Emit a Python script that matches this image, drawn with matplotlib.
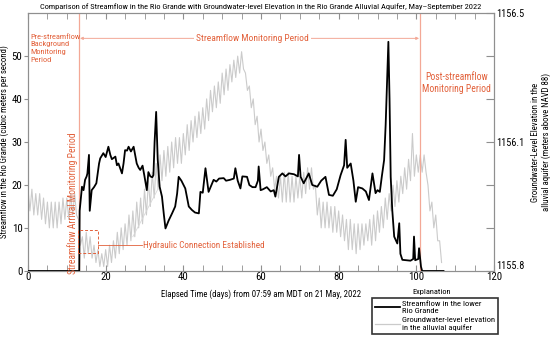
import numpy as np
import matplotlib
matplotlib.use("Agg")
import matplotlib.pyplot as plt
import matplotlib.font_manager as fm
from matplotlib.patches import Rectangle
from matplotlib.lines import Line2D

# pick the narrowest installed sans face
FONT, STRETCH = 'DejaVu Sans', 'normal'
_files = fm.findSystemFonts()
_prefs = ['libertysansnarrow', 'liberationsansnarrow-regular', 'robotocondensed-regular',
          'notosans-condensed.ttf', 'notosanscondensed-regular', 'opensans_condensed-regular',
          'opensanscondensed-regular', 'opensans-condensed', 'dejavusanscondensed.ttf']
_chosen = None
for p in _prefs:
    for f in _files:
        if p in f.lower().replace(' ', '').split('/')[-1]:
            _chosen = f
            break
    if _chosen:
        break
if _chosen:
    try:
        fm.fontManager.addfont(_chosen)
        _entry = fm.ttfFontProperty(fm.get_font(_chosen))
        FONT, STRETCH = _entry.name, _entry.stretch
    except Exception:
        pass
plt.rcParams['font.family'] = [FONT, 'DejaVu Sans']
plt.rcParams['font.stretch'] = STRETCH

# ---------------- data ----------------
flow_day = [0, 13.2, 13.3, 13.9, 14.3, 14.7, 15.1, 15.3, 15.7, 15.9, 16.4, 17, 17.6, 18.3, 18.6,
            19.4, 20.0, 20.7, 21.2, 21.6, 22.5, 22.9, 23.3, 24.2, 24.6, 25, 25.5, 25.9, 26.5,
            27.2, 28, 28.5, 28.9, 29.5, 30, 30.6, 31, 31.5, 32, 32.3, 32.6, 33.0, 33.4, 33.9,
            34.5, 35, 35.4, 36.2, 37.1, 37.9, 38.4, 38.8, 39.5, 40.5, 41.4, 42.2, 43, 44, 44.4,
            45, 45.7, 46.5, 47, 47.8, 48.5, 49.2, 50.4, 51, 52, 53, 53.4, 54, 54.7, 55.2, 56.4,
            57, 57.8, 58.6, 59.2, 59.4, 59.9, 60.5, 61.5, 62.5, 63.3, 63.7, 64.6, 65.5, 66.3,
            67.2, 68.5, 69.5, 69.8, 70.2, 71, 72.3, 73.2, 74.5, 75.5, 76.6, 77.5, 78.5, 79.5,
            80.5, 81.4, 81.8, 82.2, 83.1, 83.8, 84.4, 85, 86.1, 87, 87.8, 88.7, 89.5, 90, 90.6,
            91.1, 91.7, 92.1, 92.5, 92.8, 93.1, 93.4, 93.8, 94.3, 95.1, 95.6, 95.9, 96.4, 97.5,
            98.5, 99.2, 99.4, 99.7, 100.5, 100.7, 101.2, 101.5, 107]
flow_cms = [0, 0, 14, 19.6, 18.8, 21.2, 22, 22.7, 27, 14, 18.8, 19.5, 20.4, 25, 26.2,
            27.4, 26.5, 28.9, 27, 26, 26.6, 24.6, 25, 22.7, 25, 28.1, 28, 28.9, 27.8,
            28.9, 25, 24, 23.5, 24.5, 22, 18.8, 23, 22, 21.8, 22.3, 30, 37, 26, 19.6,
            17.3, 13, 9.9, 11.7, 13.4, 15, 18, 21.9, 21, 19.2, 15, 14.2, 13.6, 13.4, 18.4,
            18.2, 23.9, 18.4, 19.5, 21.2, 20.8, 21.5, 21.6, 21, 21.2, 21.5, 23.9, 21, 19.2, 22, 21.9,
            20, 19.5, 19.5, 21, 24.3, 18.8, 19, 19.5, 18.5, 18.8, 17.3, 21.9, 22.7, 22,
            22.7, 22.5, 22, 27, 21.9, 20.4, 22.7, 20, 19.6, 21, 21.9, 17.7, 17.5, 19,
            22.3, 24.6, 30.5, 24, 25, 21, 16.1, 19.5, 19.2, 18.5, 16.5, 22.7, 18.1, 18.8, 18.4,
            21.9, 25.8, 34, 45, 53.3, 40, 21.9, 14.2, 8, 6.4, 11.1, 4, 2.6, 2.5,
            2.4, 2.8, 8, 2.5, 2.8, 5.3, 1, 0, 0]

# groundwater level (m above NAVD 88), two readings per day (daily high, daily low)
gw_level = [
    1156.022, 1155.963, 1156.022, 1155.952, 1156.010, 1155.952, 1156.010, 1155.940,
    1155.998, 1155.928, 1155.987, 1155.917, 1155.987, 1155.917, 1155.987, 1155.917,
    1155.987, 1155.928, 1155.998, 1155.940, 1155.998, 1155.940, 1156.010, 1155.952,
    1156.010, 1155.952, 1155.940, 1155.870, 1155.893, 1155.835, 1155.905, 1155.847,
    1155.893, 1155.835, 1155.870, 1155.823, 1155.858, 1155.812, 1155.847, 1155.812,
    1155.858, 1155.812, 1155.870, 1155.823, 1155.882, 1155.835, 1155.905, 1155.847,
    1155.917, 1155.858, 1155.928, 1155.870, 1155.952, 1155.882, 1155.963, 1155.893,
    1155.987, 1155.917, 1155.998, 1155.928, 1156.022, 1155.952, 1156.045, 1155.975,
    1156.068, 1155.998, 1156.092, 1156.022, 1156.115, 1156.045, 1156.127, 1156.057,
    1156.138, 1156.068, 1156.150, 1156.080, 1156.162, 1156.092, 1156.162, 1156.092,
    1156.173, 1156.115, 1156.197, 1156.127, 1156.208, 1156.150, 1156.220, 1156.162,
    1156.232, 1156.173, 1156.243, 1156.185, 1156.267, 1156.208, 1156.290, 1156.232,
    1156.302, 1156.243, 1156.313, 1156.255, 1156.337, 1156.278, 1156.348, 1156.290,
    1156.360, 1156.313, 1156.372, 1156.325, 1156.383, 1156.337, 1156.395, 1156.348,
    1156.337, 1156.290, 1156.302, 1156.243, 1156.267, 1156.197, 1156.220, 1156.150,
    1156.185, 1156.127, 1156.150, 1156.092, 1156.115, 1156.057, 1156.080, 1156.022,
    1156.057, 1155.998, 1156.057, 1155.987, 1156.068, 1155.987, 1156.068, 1155.987,
    1156.057, 1155.987, 1156.057, 1155.998, 1156.057, 1155.998, 1156.068, 1156.010,
    1156.080, 1156.022, 1156.080, 1156.022, 1156.033, 1155.952, 1155.998, 1155.917,
    1155.987, 1155.917, 1155.987, 1155.917, 1155.975, 1155.905, 1155.975, 1155.905,
    1155.963, 1155.893, 1155.952, 1155.882, 1155.940, 1155.858, 1155.940, 1155.858,
    1155.928, 1155.847, 1155.928, 1155.858, 1155.928, 1155.870, 1155.928, 1155.882,
    1155.940, 1155.870, 1155.952, 1155.882, 1155.963, 1155.905, 1155.975, 1155.917,
    1155.998, 1155.940, 1156.010, 1155.963, 1156.033, 1155.975, 1156.045, 1155.987,
    1156.057, 1156.010, 1156.080, 1156.022, 1156.103, 1156.045, 1156.173, 1156.057,
    1156.115, 1156.068, 1156.115, 1156.068, 1156.115, 1156.068, 1156.033, 1155.963,
    1155.987, 1155.917, 1155.952, 1155.882, 1155.882, 1155.823]
gw_day = np.arange(len(gw_level)) * 0.5
gw_link_day = [27.0, 34.0]
gw_link_level = [1155.893, 1156.033]

x_ticks = [0, 20, 40, 60, 80, 100, 120]
y_ticks = [0, 10, 20, 30, 40, 50]
gw_tick_labels = ['1155.8', '', '', '1156.1', '', '', '1156.5']

RED = '#e2603a'
LRED = '#f3a896'
SPINE = '#8f8f8f'
GW = '#cbcbcb'

fig = plt.figure(figsize=(5.5, 3.47), dpi=100)
ax = fig.add_axes([28/550, 1-271/347, 466/550, 258/347])
ax2 = ax.twinx()

ax2.plot(gw_day, gw_level, color=GW, lw=0.8, zorder=1)
ax2.plot(gw_link_day, gw_link_level, color='#d8d8d8', lw=0.6, zorder=1)
ax2.set_ylim(1155.8, 1156.5)
ax2.set_yticks(np.linspace(1155.8, 1156.5, 7))
ax2.set_yticklabels(gw_tick_labels)
ax2.tick_params(axis='y', direction='in', length=6, color=SPINE, labelsize=7.4, pad=1.5)
_lbls = ax2.get_yticklabels()
_lbls[0].set_va('bottom')

ax.set_zorder(ax2.get_zorder() + 1)
ax.patch.set_visible(False)
ax.plot(flow_day, flow_cms, color='black', lw=1.3, zorder=3)
ax.set_xlim(0, 120)
ax.set_ylim(0, 60)
ax.set_xticks(x_ticks)
ax.set_xticks(np.arange(0, 121, 5), minor=True)
ax.set_yticks(y_ticks)
ax.tick_params(axis='x', which='both', direction='in', top=True, color=SPINE, labelsize=7.8, pad=1)
ax.tick_params(axis='x', which='major', length=4)
ax.tick_params(axis='x', which='minor', length=4)
ax.tick_params(axis='y', direction='out', length=3, color=SPINE, labelsize=7.8, pad=1)
for a in (ax, ax2):
    for s in a.spines.values():
        s.set_color(SPINE)
        s.set_linewidth(0.8)

ax.set_xlabel('Elapsed Time (days) from 07:59 am MDT on 21 May, 2022', fontsize=6.3, labelpad=5)
ax.set_ylabel('Streamflow in the Rio Grande (cubic meters per second)', fontsize=6.3, labelpad=2)
ax2.set_ylabel('Groundwater-Level Elevation in the\nalluvial aquifer (meters above NAVD 88)',
               fontsize=6.3, labelpad=5, linespacing=1.2)
ax.set_title('Comparison of Streamflow in the Rio Grande with Groundwater-level Elevation '
             'in the Rio Grande Alluvial Aquifer, May\u2013September 2022', fontsize=6.0, pad=3)

# annotations
ax.axvline(13.1, color=LRED, lw=0.9, zorder=2)
ax.axvline(101.0, color=LRED, lw=0.9, zorder=2)
ax.annotate('', xy=(13.4, 54.1), xytext=(100.7, 54.1),
            arrowprops=dict(arrowstyle='<|-|>', color=LRED, lw=0.7, mutation_scale=4,
                            shrinkA=0, shrinkB=0))
ax.text(57.8, 54.1, 'Streamflow Monitoring Period', color=RED, fontsize=6.8,
        ha='center', va='center', bbox=dict(facecolor='white', edgecolor='none', pad=1.5))
ax.text(0.5, 55.2, 'Pre-streamflow\nBackground\nMonitoring\nPeriod', color=RED, fontsize=6.0,
        ha='left', va='top', linespacing=1.35)
ax.text(110.3, 43.7, 'Post-streamflow\nMonitoring Period', color=RED, fontsize=6.9,
        ha='center', va='center', linespacing=1.35)
ax.text(11.6, 15.8, 'Streamflow Arrival Monitoring Period', color=RED, fontsize=6.9,
        rotation=90, ha='center', va='center')
ax.add_patch(Rectangle((13.0, 4.2), 5.0, 5.3, fill=False, edgecolor=RED, lw=0.7,
                       linestyle=(0, (3, 2)), zorder=4))
ax.plot([18.0, 29.3], [6.0, 6.0], color=RED, lw=0.6, zorder=4)
ax.text(29.7, 6.0, 'Hydraulic Connection Established', color=RED, fontsize=6.6,
        ha='left', va='center')

# legend
handles = [Line2D([], [], color='black', lw=1.3),
           Line2D([], [], color=GW, lw=0.9)]
labels = ['Streamflow in the lower\nRio Grande', 'Groundwater-level elevation\nin the alluvial aquifer']
leg = fig.legend(handles, labels, loc='upper left', bbox_to_anchor=(372/550, 1-298/347),
                 fontsize=6.1, frameon=True, fancybox=False, handlelength=2.9,
                 handletextpad=0.35, borderpad=0.35, labelspacing=0.4, borderaxespad=0)
leg.get_frame().set_edgecolor('black')
leg.get_frame().set_linewidth(1.2)
fig.text(432/550, 1-292/347, 'Explanation', fontsize=6.0, ha='center', va='center')

fig.savefig('out.png', dpi=100)
